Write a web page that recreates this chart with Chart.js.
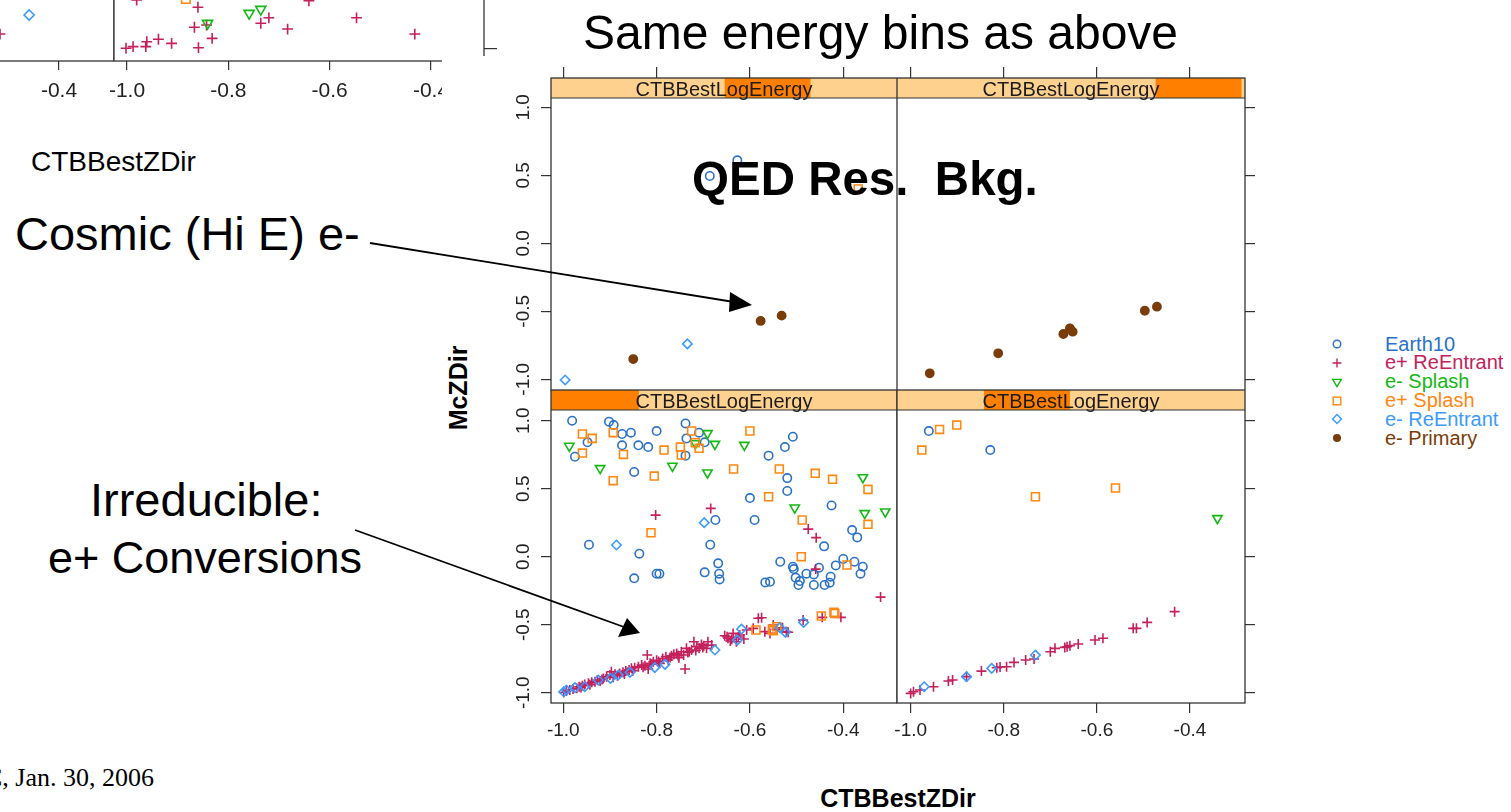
<!DOCTYPE html>
<html>
<head>
<meta charset="utf-8">
<script src="https://cdn.jsdelivr.net/npm/chart.js@4.4.1/dist/chart.umd.min.js"></script>
<style>
  html, body { margin: 0; padding: 0; background: #fff; }
  body { width: 1511px; height: 812px; position: relative; overflow: hidden; font-family: Arial, "Liberation Sans", sans-serif; }
  canvas { position: absolute; }
  .ann { position: absolute; white-space: pre; line-height: 1; color: #000; z-index: 5; }
  #cover { position: absolute; left: 442px; top: 56px; width: 1069px; height: 756px; background: #fff; z-index: 2; }
  #legend { position: absolute; left: 1326px; top: 334.6px; width: 185px; height: 120px; z-index: 5; }
  #legend .row { position: absolute; left: 0; height: 18.85px; line-height: 18.85px; font-size: 20px; white-space: pre; }
  #legend svg { position: absolute; left: 3.7px; top: 2.4px; }
  #legend span { position: absolute; left: 59px; top: 0; }
  #arrows { position: absolute; left: 0; top: 0; z-index: 6; pointer-events: none; }
</style>
</head>
<body>
<div id="cover"></div>

<div class="ann" style="left:583px;top:9px;font-size:48px;">Same energy bins as above</div>
<div class="ann" style="left:692px;top:155px;font-size:47.5px;font-weight:bold;">QED Res.  Bkg.</div>
<div class="ann" style="left:15px;top:210px;font-size:47px;">Cosmic (Hi E) e-</div>
<div class="ann" style="left:90px;top:476px;font-size:47px;">Irreducible:</div>
<div class="ann" style="left:48px;top:535px;font-size:45px;">e+ Conversions</div>
<div class="ann" style="left:31px;top:148px;font-size:28px;">CTBBestZDir</div>
<div class="ann" style="left:898px;top:798px;font-size:25px;font-weight:bold;transform:translate(-50%,-50%);">CTBBestZDir</div>
<div class="ann" style="left:458px;top:388px;font-size:25px;font-weight:bold;transform:translate(-50%,-50%) rotate(-90deg);">McZDir</div>
<div class="ann" style="left:-15px;top:765px;font-size:26px;font-family:'Liberation Serif','Times New Roman',serif;">C, Jan. 30, 2006</div>

<div id="legend"></div>

<svg id="arrows" width="1511" height="812">
  <g stroke="#000" stroke-width="1.8" fill="#000">
    <line x1="370" y1="243" x2="734" y2="302" />
    <polygon points="752,305 730,292 729,312" stroke="none" />
    <line x1="355" y1="530" x2="624" y2="627" />
    <polygon points="640,633 618,637 627,618" stroke="none" />
  </g>
</svg>

<script>
// ---- data -------------------------------------------------------------
const SERIES = ['Earth10', 'e+ ReEntrant', 'e- Splash', 'e+ Splash', 'e- ReEntrant', 'e- Primary'];
const X_TICKS = [-1.0, -0.8, -0.6, -0.4];
const Y_TICKS = [-1.0, -0.5, 0.0, 0.5, 1.0];
const STRIP_LABEL = 'CTBBestLogEnergy';
// shingle interval of each panel, as a fraction of the strip: TL, TR, BL, BR
const ENERGY_BINS = [[0.502, 0.75], [0.743, 0.99], [0.0, 0.254], [0.25, 0.497]];

// top-left panel
const tlEarth10 = [[-0.686, 0.495], [-0.627, 0.61]];
const tlEplusSplash = [[-0.368, 0.40]];
const tlEminusReEntrant = [[-0.996, -1.005], [-0.734, -0.74]];
const tlEminusPrimary = [[-0.850, -0.851], [-0.577, -0.571], [-0.532, -0.532]];

// top-right panel
const trEminusPrimary = [[-0.959, -0.956], [-0.812, -0.809], [-0.672, -0.667], [-0.658, -0.625],
  [-0.652, -0.65], [-0.497, -0.496], [-0.471, -0.466]];

// bottom-left panel
const blEarth10 = [[-0.981, 1.0], [-0.948, 0.841], [-0.975, 0.735], [-0.902, 0.993], [-0.892, 0.968],
  [-0.874, 0.902], [-0.855, 0.912], [-0.874, 0.819], [-0.839, 0.819], [-0.818, 0.806], [-0.800, 0.924],
  [-0.738, 0.980], [-0.736, 0.870], [-0.738, 0.743], [-0.709, 0.912], [-0.697, 0.841], [-0.848, 0.623],
  [-0.560, 0.743], [-0.525, 0.806], [-0.508, 0.882], [-0.520, 0.578], [-0.520, 0.483], [-0.600, 0.431],
  [-0.590, 0.270], [-0.425, 0.377], [-0.674, 0.270], [-0.945, 0.088], [-0.837, 0.022], [-0.685, 0.088],
  [-0.848, -0.159], [-0.800, -0.125], [-0.794, -0.125], [-0.697, -0.115], [-0.668, -0.049], [-0.666, -0.125],
  [-0.665, -0.167], [-0.567, -0.189], [-0.557, -0.184], [-0.535, -0.037], [-0.508, -0.074], [-0.506, -0.091],
  [-0.502, -0.154], [-0.496, -0.208], [-0.493, -0.179], [-0.479, -0.125], [-0.463, -0.208], [-0.463, -0.130],
  [-0.452, -0.081], [-0.440, -0.208], [-0.429, -0.191], [-0.427, -0.147], [-0.416, -0.064], [-0.400, -0.017],
  [-0.376, -0.037], [-0.358, -0.074], [-0.363, -0.125], [-0.381, 0.196], [-0.370, 0.142], [-0.441, 0.076]];
const blEplusReEntrant = [[-0.802, 0.306], [-0.684, 0.355], [-0.475, 0.203], [-0.458, 0.140], [-0.459, -0.091],
  [-0.320, -0.297], [-0.405, -0.446], [-0.445, -0.446], [-0.486, -0.466], [-0.522, -0.551],
  [-0.999, -0.998], [-0.993, -0.988], [-0.986, -0.980], [-0.979, -0.973], [-0.971, -0.968], [-0.966, -0.956],
  [-0.959, -0.949], [-0.954, -0.939], [-0.946, -0.931], [-0.939, -0.924], [-0.932, -0.919], [-0.927, -0.907],
  [-0.921, -0.914], [-0.914, -0.895], [-0.907, -0.882], [-0.900, -0.870], [-0.897, -0.846], [-0.889, -0.865],
  [-0.884, -0.875], [-0.879, -0.858], [-0.872, -0.850], [-0.866, -0.841], [-0.859, -0.833], [-0.854, -0.821],
  [-0.847, -0.816], [-0.839, -0.809], [-0.832, -0.797], [-0.825, -0.801], [-0.820, -0.723], [-0.814, -0.784],
  [-0.807, -0.772], [-0.800, -0.762], [-0.793, -0.784], [-0.787, -0.748], [-0.780, -0.735], [-0.775, -0.760],
  [-0.768, -0.728], [-0.763, -0.718], [-0.757, -0.711], [-0.752, -0.743], [-0.747, -0.699], [-0.742, -0.723],
  [-0.736, -0.674], [-0.730, -0.699], [-0.725, -0.686], [-0.720, -0.625], [-0.714, -0.662], [-0.709, -0.674],
  [-0.704, -0.645], [-0.699, -0.654], [-0.693, -0.674], [-0.690, -0.625], [-0.682, -0.650], [-0.654, -0.581],
  [-0.647, -0.600], [-0.642, -0.620], [-0.636, -0.564], [-0.629, -0.625], [-0.622, -0.576], [-0.613, -0.605],
  [-0.607, -0.539], [-0.593, -0.527], [-0.582, -0.453], [-0.575, -0.449], [-0.568, -0.551], [-0.557, -0.564],
  [-0.550, -0.502], [-0.543, -0.534], [-0.530, -0.522], [-0.518, -0.556], [-0.818, -0.826], [-0.739, -0.826],
  [-0.962, -0.962], [-0.943, -0.942], [-0.917, -0.902], [-0.893, -0.887], [-0.869, -0.862], [-0.851, -0.838],
  [-0.829, -0.812], [-0.811, -0.790], [-0.796, -0.770], [-0.771, -0.742], [-0.754, -0.727], [-0.733, -0.704],
  [-0.716, -0.690], [-0.701, -0.668], [-0.649, -0.588], [-0.639, -0.607], [-0.625, -0.590]];
const blEminusSplash = [[-0.987, 0.814], [-0.921, 0.650], [-0.766, 0.667], [-0.691, 0.907], [-0.675, 0.828],
  [-0.691, 0.618], [-0.612, 0.821], [-0.717, 0.833], [-0.504, 0.360], [-0.358, 0.583], [-0.354, 0.319],
  [-0.310, 0.331]];
const blEplusSplash = [[-0.959, 0.902], [-0.938, 0.870], [-0.959, 0.762], [-0.893, 0.912], [-0.871, 0.752],
  [-0.893, 0.559], [-0.805, 0.593], [-0.784, 0.784], [-0.749, 0.806], [-0.747, 0.748], [-0.725, 0.924],
  [-0.717, 0.838], [-0.709, 0.797], [-0.600, 0.924], [-0.635, 0.645], [-0.537, 0.645], [-0.560, 0.441],
  [-0.460, 0.613], [-0.423, 0.569], [-0.347, 0.495], [-0.347, 0.238], [-0.488, 0.270], [-0.490, 0.0],
  [-0.392, -0.061], [-0.812, 0.176], [-0.587, -0.539], [-0.552, -0.534], [-0.550, -0.544], [-0.542, -0.515],
  [-0.447, -0.436], [-0.420, -0.409], [-0.418, -0.417]];
const blEminusReEntrant = [[-0.999, -0.993], [-0.993, -0.980], [-0.975, -0.963], [-0.954, -0.956],
  [-0.925, -0.907], [-0.899, -0.895], [-0.882, -0.870], [-0.857, -0.850], [-0.804, -0.816], [-0.782, -0.792],
  [-0.675, -0.686], [-0.627, -0.613], [-0.618, -0.532], [-0.536, -0.522], [-0.524, -0.556], [-0.485, -0.483],
  [-0.698, 0.250], [-0.886, 0.086]];

// bottom-right panel
const brEarth10 = [[-0.961, 0.924], [-0.829, 0.784]];
const brEplusReEntrant = [[-1.0, -1.005], [-0.994, -0.993], [-0.980, -0.980], [-0.951, -0.956], [-0.919, -0.914],
  [-0.910, -0.907], [-0.880, -0.882], [-0.848, -0.841], [-0.815, -0.816], [-0.808, -0.811], [-0.794, -0.809],
  [-0.778, -0.777], [-0.753, -0.760], [-0.735, -0.752], [-0.700, -0.699], [-0.690, -0.674], [-0.669, -0.667],
  [-0.664, -0.662], [-0.658, -0.654], [-0.640, -0.642], [-0.604, -0.613], [-0.587, -0.600], [-0.522, -0.527],
  [-0.515, -0.527], [-0.492, -0.483], [-0.433, -0.404]];
const brEminusSplash = [[-0.341, 0.282]];
const brEplusSplash = [[-0.938, 0.936], [-0.901, 0.968], [-0.976, 0.784], [-0.732, 0.441], [-0.560, 0.505]];
const brEminusReEntrant = [[-0.971, -0.956], [-0.880, -0.882], [-0.826, -0.821], [-0.732, -0.723]];

// lower part of the previous slide's plot (top-left corner)
const prevEplusReEntrant = [[-0.981, -0.671], [-0.860, -0.720], [-0.867, -0.855], [-0.843, -0.840],
  [-0.832, -0.930], [-0.859, -0.993], [-1.002, -0.997], [-0.988, -0.986], [-0.961, -0.953], [-0.963, -0.986],
  [-0.938, -0.936], [-0.912, -0.964], [-0.720, -0.791], [-0.736, -0.828], [-0.683, -0.867], [-0.641, -0.676],
  [-0.547, -0.791], [-0.432, -0.901]];
const prevEminusSplash = [[-0.841, -0.828], [-0.759, -0.761], [-0.736, -0.734]];
const prevEplusSplash = [[-0.884, -0.664]];
const prevLeftEplusReEntrant = [[-0.5165, -0.901]];
const prevLeftEminusReEntrant = [[-0.459, -0.772]];

// ---- styles -----------------------------------------------------------
const INK = '#222';
const LINE = '#333';
const STRIP_BG = '#ffd18f';
const STRIP_FG = '#ff8000';
const STRIP_H = 20;
const seriesStyle = [
  { pointStyle: 'circle', color: '#2a72c8', radius: 4.2 },
  { pointStyle: 'cross', color: '#c4215c', radius: 5.0 },
  { pointStyle: 'triangle', rotation: 180, color: '#14b814', radius: 5.4 },
  { pointStyle: 'rect', color: '#ff8812', radius: 5.6 },
  { pointStyle: 'rectRot', color: '#3a9aff', radius: 4.7 },
  { pointStyle: 'circle', color: '#7a3c08', radius: 4.1, filled: true },
];

Chart.defaults.font.family = 'Arial, "Liberation Sans", sans-serif';

function datasets(series, scale) {
  return SERIES.map((name, i) => {
    const st = seriesStyle[i];
    return {
      label: name,
      data: (series[i] || []).map(([x, y]) => ({ x, y })),
      pointStyle: st.pointStyle,
      pointRotation: st.rotation || 0,
      pointRadius: st.radius * scale,
      pointBorderWidth: 1.6,
      pointBorderColor: st.color,
      pointBackgroundColor: st.filled ? st.color : 'rgba(0,0,0,0)',
      borderColor: st.color,
      backgroundColor: st.filled ? st.color : 'rgba(0,0,0,0)',
      order: SERIES.length - i,
    };
  });
}

// panel border plus the strip with its shaded energy interval
function frame(bin) {
  return {
    id: 'latticeFrame',
    afterDraw(chart) {
      const { ctx, chartArea: a } = chart;
      const w = a.right - a.left;
      ctx.save();
      if (bin) {
        ctx.fillStyle = STRIP_BG;
        ctx.fillRect(a.left, a.top, w, STRIP_H);
        ctx.fillStyle = STRIP_FG;
        ctx.fillRect(a.left + bin[0] * w, a.top, (bin[1] - bin[0]) * w, STRIP_H);
        ctx.fillStyle = '#1b1b1b';
        ctx.font = '20px Arial, "Liberation Sans", sans-serif';
        ctx.textAlign = 'center';
        ctx.textBaseline = 'alphabetic';
        ctx.fillText(STRIP_LABEL, (a.left + a.right) / 2, a.top + 17.8);
        ctx.strokeStyle = LINE;
        ctx.lineWidth = 1.2;
        ctx.beginPath();
        ctx.moveTo(a.left, a.top + STRIP_H);
        ctx.lineTo(a.right, a.top + STRIP_H);
        ctx.stroke();
      }
      ctx.strokeStyle = LINE;
      ctx.lineWidth = 1.3;
      ctx.strokeRect(a.left, a.top, w, a.bottom - a.top);
      ctx.restore();
    },
  };
}

// one lattice panel = one chart; area is the plot box (strip included) in page px
function panel(area, opt) {
  const pad = Object.assign({ left: 0, right: 0, top: 0, bottom: 0 }, opt.pad || {});
  const xSize = opt.xLabels ? opt.xAxisH : opt.xTick + 3;
  const ySize = opt.y ? (opt.yLabels ? 60 : opt.yTick + 4) : 0;
  const L = pad.left + (opt.y === 'left' ? ySize : 0);
  const R = pad.right + (opt.y === 'right' ? ySize : 0);
  const T = pad.top + (opt.x === 'top' ? xSize : 0);
  const B = pad.bottom + (opt.x === 'bottom' ? xSize : 0);
  const w = area[2] - area[0] + L + R;
  const h = area[3] - area[1] + T + B;
  const cv = document.createElement('canvas');
  cv.width = w;
  cv.height = h;
  Object.assign(cv.style, {
    left: (area[0] - L) + 'px', top: (area[1] - T) + 'px',
    width: w + 'px', height: h + 'px', zIndex: opt.z,
  });
  document.body.appendChild(cv);
  const fmt = v => Number(v).toFixed(1);
  return new Chart(cv, {
    type: 'scatter',
    data: { datasets: datasets(opt.series, opt.symScale || 1) },
    options: {
      responsive: false,
      animation: false,
      events: [],
      devicePixelRatio: 1,
      layout: { padding: pad, autoPadding: false },
      plugins: { legend: { display: false }, tooltip: { enabled: false } },
      scales: {
        x: {
          type: 'linear',
          position: opt.x,
          min: opt.xRange[0],
          max: opt.xRange[1],
          afterBuildTicks: s => { s.ticks = X_TICKS.map(value => ({ value })); },
          afterFit: s => { s.height = xSize; s.paddingLeft = 0; s.paddingRight = 0; },
          ticks: {
            display: !!opt.xLabels, autoSkip: false, minRotation: 0, maxRotation: 0,
            padding: opt.xPad, color: INK, font: { size: opt.font }, callback: fmt,
          },
          grid: { drawOnChartArea: false, drawTicks: true, tickLength: opt.xTick, color: LINE, lineWidth: 1.2 },
          border: { display: false },
        },
        y: {
          type: 'linear',
          position: opt.y || 'left',
          display: !!opt.y,
          min: opt.yRange[0],
          max: opt.yRange[1],
          afterBuildTicks: s => { s.ticks = Y_TICKS.map(value => ({ value })); },
          afterFit: s => { s.width = ySize; s.paddingTop = 0; s.paddingBottom = 0; },
          ticks: {
            display: !!opt.yLabels, autoSkip: false, minRotation: 90, maxRotation: 90,
            crossAlign: 'center', padding: 1, color: INK, font: { size: opt.font }, callback: fmt,
          },
          grid: { drawOnChartArea: false, drawTicks: true, tickLength: opt.yTick, color: LINE, lineWidth: 1.2 },
          border: { display: false },
        },
      },
    },
    plugins: [frame(opt.bin)],
  });
}

// ---- previous slide's plot, only its bottom edge shows -------------------
const prevY = [-1.083, 1.018];
panel([-256, -250, 114, 61], {
  z: 1, x: 'bottom', xLabels: true, xAxisH: 50, xTick: 9, xPad: 9, y: null, font: 21,
  xRange: [-1.0217, -0.2915], yRange: prevY, symScale: 1.08,
  series: [null, prevLeftEplusReEntrant, null, null, prevLeftEminusReEntrant, null],
});
panel([114, -250, 484, 61], {
  z: 1, x: 'bottom', xLabels: true, xAxisH: 50, xTick: 9, xPad: 9, y: 'right', yTick: 13, font: 21,
  xRange: [-1.0257, -0.2954], yRange: prevY, symScale: 1.08, pad: { left: 25 },
  series: [null, prevEplusReEntrant, prevEminusSplash, prevEplusSplash, null, null],
});

// ---- main 2x2 lattice -------------------------------------------------------
const xLeft = [-1.0263, -0.2848];
const xRight = [-1.0294, -0.2818];
const yTop = [-1.0787, 1.2154];
const yBottom = [-1.0757, 1.2257];
const common = { z: 3, font: 19, xAxisH: 45, xPad: 6 };

panel([551, 78, 897, 390], Object.assign({}, common, {
  x: 'top', xTick: 11, y: 'left', yLabels: true, yTick: 10, xRange: xLeft, yRange: yTop,
  bin: ENERGY_BINS[0], pad: { bottom: 12 },
  series: [tlEarth10, null, null, tlEplusSplash, tlEminusReEntrant, tlEminusPrimary],
}));
panel([897, 78, 1245, 390], Object.assign({}, common, {
  x: 'top', xTick: 11, y: 'right', yTick: 10, xRange: xRight, yRange: yTop,
  bin: ENERGY_BINS[1],
  series: [null, null, null, null, null, trEminusPrimary],
}));
panel([551, 390, 897, 703], Object.assign({}, common, {
  x: 'bottom', xLabels: true, xTick: 10, y: 'left', yLabels: true, yTick: 10, xRange: xLeft, yRange: yBottom,
  bin: ENERGY_BINS[2],
  series: [blEarth10, blEplusReEntrant, blEminusSplash, blEplusSplash, blEminusReEntrant, null],
}));
panel([897, 390, 1245, 703], Object.assign({}, common, {
  x: 'bottom', xLabels: true, xTick: 10, y: 'right', yTick: 10, xRange: xRight, yRange: yBottom,
  bin: ENERGY_BINS[3], pad: { left: 10 },
  series: [brEarth10, brEplusReEntrant, brEminusSplash, brEplusSplash, brEminusReEntrant, null],
}));

// ---- key ------------------------------------------------------------------
function symbol(st) {
  const c = st.color;
  const s = `stroke="${c}" stroke-width="1.4" fill="none"`;
  if (st.filled) return `<circle r="4" fill="${c}"/>`;
  switch (st.pointStyle) {
    case 'circle': return `<circle r="3.8" ${s}/>`;
    case 'cross': return `<path d="M-4.5 0H4.5M0 -4.5V4.5" ${s}/>`;
    case 'triangle': return `<path d="M-4.3 -2.6L4.3 -2.6L0 4.6Z" ${s}/>`;
    case 'rect': return `<rect x="-3.8" y="-3.8" width="7.6" height="7.6" ${s}/>`;
    default: return `<path d="M0 -4.4L4.4 0L0 4.4L-4.4 0Z" ${s}/>`;
  }
}
const legend = document.getElementById('legend');
SERIES.forEach((name, i) => {
  const st = seriesStyle[i];
  const row = document.createElement('div');
  row.className = 'row';
  row.style.top = (i * 18.85) + 'px';
  row.innerHTML = `<svg width="14" height="14" viewBox="-7 -7 14 14">${symbol(st)}</svg>` +
    `<span style="color:${st.color}">${name}</span>`;
  legend.appendChild(row);
});
</script>
</body>
</html>
